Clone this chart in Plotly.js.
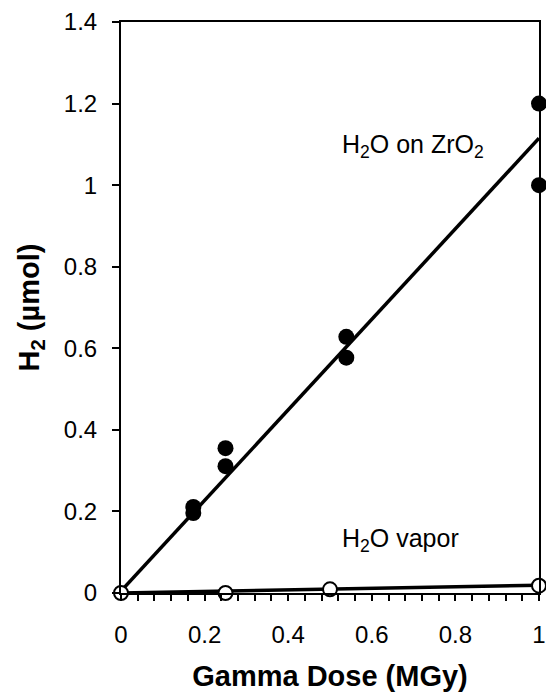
<!DOCTYPE html>
<html><head><meta charset="utf-8">
<script src="https://cdn.plot.ly/plotly-3.0.1.min.js"></script>
<style>html,body{margin:0;padding:0;background:#fff}#chart{width:546px;height:698px}</style>
</head><body><div id="chart"></div>
<script>
// Data
var zrDose = [0.173, 0.173, 0.25, 0.25, 0.539, 0.539, 1.0, 1.0];
var zrH2   = [0.211, 0.196, 0.355, 0.311, 0.628, 0.577, 1.2, 1.0];
var vapDose = [0, 0.25, 0.5, 1.0];
var vapH2   = [0, 0.0, 0.009, 0.018];
var zrFitX = [0, 1];
var zrFitY = [0.005, 1.115];
var vapFitX = [0, 1];
var vapFitY = [0, 0.019];
var xTicks = [0, 0.2, 0.4, 0.6, 0.8, 1];
var xTickText = ['0', '0.2', '0.4', '0.6', '0.8', '1'];
var yTicks = [0, 0.2, 0.4, 0.6, 0.8, 1, 1.2, 1.4];
var yTickText = ['0', '0.2', '0.4', '0.6', '0.8', '1', '1.2', '1.4'];

var font = 'Arial, "Liberation Sans", sans-serif';
var traces = [
  {x: zrFitX, y: zrFitY, mode: 'lines', line: {color: '#000', width: 3.5}, cliponaxis: false, hoverinfo: 'skip'},
  {x: vapFitX, y: vapFitY, mode: 'lines', line: {color: '#000', width: 3.5}, cliponaxis: false, hoverinfo: 'skip'},
  {x: zrDose, y: zrH2, mode: 'markers', marker: {color: '#000', size: 16, symbol: 'circle'}, cliponaxis: false},
  {x: vapDose, y: vapH2, mode: 'markers', marker: {color: '#fff', size: 14, symbol: 'circle', line: {color: '#000', width: 2}}, cliponaxis: false}
];
var layout = {
  width: 546, height: 698,
  margin: {l: 121, r: 7, t: 22, b: 105},
  paper_bgcolor: '#fff', plot_bgcolor: '#fff',
  showlegend: false,
  font: {family: font, color: '#000', size: 24},
  xaxis: {
    range: [0, 1], tickvals: xTicks, ticktext: xTickText,
    showgrid: false, zeroline: false, showline: true, linecolor: '#000', linewidth: 2, mirror: true,
    ticks: 'outside', ticklen: 6, tickwidth: 2, tickcolor: '#000',
    minor: {dtick: 0.04, ticks: 'outside', ticklen: 6, tickwidth: 2, tickcolor: '#000', showgrid: false},
    ticklabelstandoff: 13,
    tickfont: {family: font, size: 24, color: '#000'},
    title: {text: '<b>Gamma Dose (MGy)</b>', font: {family: font, size: 29, color: '#000'}, standoff: 19}
  },
  yaxis: {
    range: [0, 1.4], tickvals: yTicks, ticktext: yTickText,
    showgrid: false, zeroline: false, showline: true, linecolor: '#000', linewidth: 2, mirror: true,
    ticks: 'outside', ticklen: 7, tickwidth: 2, tickcolor: '#000',
    ticklabelstandoff: 10,
    tickfont: {family: font, size: 24, color: '#000'},
    title: {text: '<b>H<sub>2</sub> (µmol)</b>', font: {family: font, size: 29, color: '#000'}, standoff: 16}
  },
  annotations: [
    {x: 0.523, y: 1.096, xref: 'x', yref: 'y', xanchor: 'left', yanchor: 'middle', showarrow: false,
     text: 'H<sub>2</sub>O on ZrO<sub>2</sub>', font: {family: font, size: 25, color: '#000'}},
    {x: 0.523, y: 0.13, xref: 'x', yref: 'y', xanchor: 'left', yanchor: 'middle', showarrow: false,
     text: 'H<sub>2</sub>O vapor', font: {family: font, size: 25, color: '#000'}}
  ]
};
Plotly.newPlot('chart', traces, layout, {displayModeBar: false, staticPlot: true});
</script></body></html>
